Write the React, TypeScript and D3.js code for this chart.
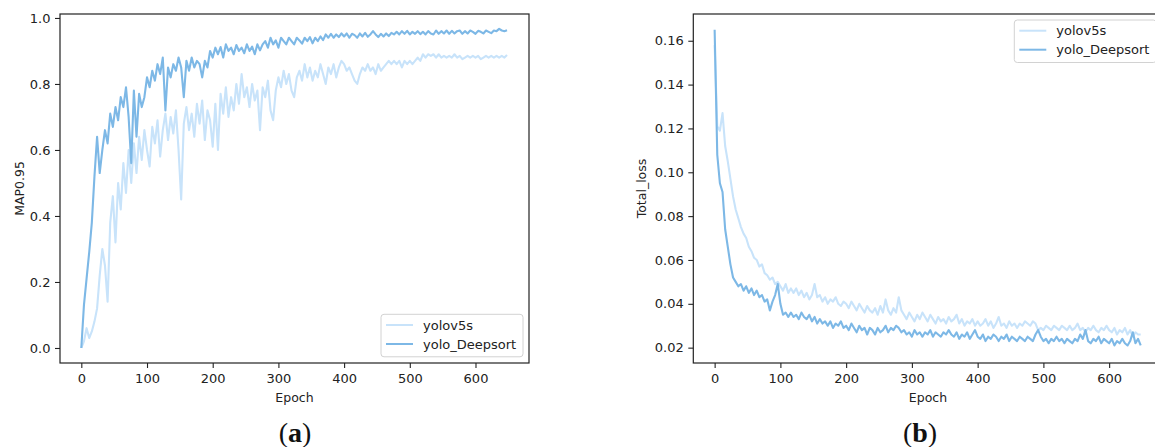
import React, { useRef, useEffect } from 'react';
import * as d3 from 'd3';

// every value below is one reading taken every 4 epochs (0, 4, 8 ... 648)
const EPOCH_STEP = 4;

const seriesNames = ['yolov5s', 'yolo_Deepsort'];
const seriesColors = ['#c8e3fa', '#7db8e6'];

const epochTicks = [0, 100, 200, 300, 400, 500, 600];
const mapTicks = [0, 0.2, 0.4, 0.6, 0.8, 1.0];
const lossTicks = [0.02, 0.04, 0.06, 0.08, 0.1, 0.12, 0.14, 0.16];

// (a) MAP0.95
const mapYolov5s = [
  0.0, 0.02, 0.06, 0.03, 0.05, 0.08, 0.12, 0.22, 0.3, 0.25,
  0.14, 0.38, 0.46, 0.32, 0.5, 0.42, 0.56, 0.47, 0.6, 0.5,
  0.62, 0.53, 0.64, 0.57, 0.66, 0.6, 0.55, 0.67, 0.62, 0.69,
  0.58, 0.66, 0.71, 0.63, 0.7, 0.65, 0.72, 0.6, 0.45, 0.68,
  0.73, 0.66, 0.71, 0.64, 0.74, 0.68, 0.75, 0.63, 0.72, 0.69,
  0.61, 0.74, 0.6, 0.77, 0.71, 0.79, 0.7, 0.76, 0.72, 0.8,
  0.74, 0.83, 0.76, 0.79, 0.73, 0.8, 0.75, 0.78, 0.66, 0.79,
  0.76, 0.81, 0.72, 0.69, 0.78, 0.82, 0.79, 0.84, 0.8, 0.83,
  0.78, 0.76, 0.82, 0.84, 0.81, 0.86, 0.82, 0.85, 0.81, 0.84,
  0.82, 0.86, 0.83, 0.8, 0.85, 0.83, 0.86, 0.82, 0.85, 0.87,
  0.86, 0.84, 0.85, 0.83, 0.81, 0.8, 0.83, 0.85, 0.84, 0.86,
  0.84, 0.85, 0.83, 0.86, 0.84, 0.85, 0.86, 0.87, 0.86, 0.87,
  0.86, 0.87, 0.85, 0.87, 0.86, 0.87, 0.86, 0.87, 0.88, 0.87,
  0.89, 0.88, 0.89, 0.885, 0.89, 0.88, 0.89, 0.88, 0.885, 0.88,
  0.885, 0.88, 0.89, 0.88, 0.885, 0.875, 0.88, 0.885, 0.88, 0.885,
  0.88, 0.885, 0.875, 0.88, 0.885, 0.88, 0.885, 0.88, 0.885, 0.88,
  0.885, 0.88, 0.888,
];

const mapDeepsort = [
  0.0, 0.13, 0.21, 0.29, 0.38, 0.52, 0.64, 0.53, 0.6, 0.66,
  0.62, 0.71, 0.67, 0.73, 0.69, 0.76, 0.73, 0.79, 0.7, 0.56,
  0.78, 0.64, 0.77, 0.73, 0.76, 0.82, 0.79, 0.84, 0.81, 0.86,
  0.83, 0.88, 0.72, 0.85, 0.82, 0.86, 0.84, 0.88, 0.85, 0.76,
  0.87, 0.84, 0.88, 0.85, 0.87, 0.86, 0.82, 0.87, 0.85, 0.9,
  0.88, 0.91, 0.89, 0.912, 0.88, 0.92, 0.9, 0.91, 0.89, 0.918,
  0.9, 0.91, 0.893, 0.92, 0.9, 0.913, 0.89, 0.92, 0.902, 0.92,
  0.93, 0.91, 0.94, 0.92, 0.932, 0.91, 0.94, 0.93, 0.92, 0.94,
  0.93, 0.92, 0.94, 0.932, 0.922, 0.94, 0.93, 0.942, 0.923, 0.94,
  0.93, 0.944, 0.933, 0.95, 0.94, 0.952, 0.94, 0.95, 0.942, 0.953,
  0.944, 0.953, 0.94, 0.952, 0.948, 0.94, 0.953, 0.944, 0.955, 0.943,
  0.95, 0.96, 0.95, 0.942, 0.952, 0.944, 0.953, 0.945, 0.955, 0.95,
  0.958, 0.95, 0.96, 0.952, 0.961, 0.95, 0.958, 0.952, 0.96, 0.951,
  0.958, 0.95, 0.96, 0.953, 0.95, 0.962, 0.952, 0.96, 0.953, 0.962,
  0.952, 0.961, 0.953, 0.96, 0.962, 0.952, 0.96, 0.953, 0.962, 0.958,
  0.952, 0.961, 0.958, 0.953, 0.962, 0.958, 0.954, 0.962, 0.96, 0.967,
  0.962, 0.96, 0.963,
];

// (b) Total_loss
const lossYolov5s = [
  0.158, 0.121, 0.119, 0.127, 0.112, 0.105, 0.097, 0.089, 0.083, 0.079,
  0.075, 0.072, 0.07, 0.066, 0.064, 0.061, 0.06, 0.057, 0.058, 0.054,
  0.053, 0.051, 0.052, 0.049, 0.05, 0.048, 0.046, 0.049, 0.045, 0.047,
  0.045, 0.047, 0.044, 0.046, 0.043, 0.045, 0.042, 0.044, 0.049, 0.043,
  0.044, 0.041, 0.043, 0.04, 0.042, 0.041, 0.043, 0.04, 0.039, 0.041,
  0.04, 0.038, 0.041, 0.039, 0.037, 0.04, 0.038, 0.036, 0.039, 0.037,
  0.036, 0.038, 0.035, 0.039, 0.036, 0.042, 0.037, 0.035, 0.038, 0.036,
  0.043, 0.037, 0.035, 0.033, 0.036, 0.034, 0.032, 0.035, 0.033, 0.036,
  0.034, 0.032, 0.035, 0.033, 0.031, 0.034, 0.032, 0.033, 0.031, 0.034,
  0.032, 0.033, 0.035, 0.031, 0.033, 0.03, 0.032, 0.031, 0.033, 0.03,
  0.032, 0.03, 0.031, 0.033, 0.03, 0.032, 0.029, 0.031, 0.034, 0.03,
  0.031, 0.029, 0.032, 0.03, 0.031, 0.029, 0.031, 0.03, 0.032, 0.031,
  0.03, 0.032, 0.031, 0.028, 0.029, 0.028, 0.03, 0.029, 0.028, 0.03,
  0.029, 0.028, 0.03, 0.029, 0.028, 0.03, 0.028, 0.029, 0.031, 0.028,
  0.029, 0.027, 0.029, 0.028, 0.03, 0.028, 0.027, 0.029, 0.028, 0.03,
  0.028, 0.027, 0.029, 0.026, 0.028, 0.027, 0.029, 0.026, 0.028, 0.025,
  0.027, 0.026, 0.026,
];

const lossDeepsort = [
  0.165, 0.108, 0.095, 0.091, 0.074, 0.066, 0.058, 0.052, 0.05, 0.048,
  0.049, 0.046, 0.048, 0.045, 0.047, 0.044, 0.046, 0.043, 0.044, 0.041,
  0.042, 0.037, 0.041, 0.044, 0.049, 0.04, 0.035, 0.036, 0.034, 0.036,
  0.034, 0.035, 0.033, 0.036, 0.034, 0.033, 0.035, 0.032, 0.034, 0.031,
  0.033, 0.031, 0.032, 0.03, 0.032, 0.029, 0.031, 0.03, 0.032, 0.029,
  0.03, 0.028, 0.031, 0.029, 0.027, 0.03, 0.028, 0.029, 0.026, 0.029,
  0.028, 0.026, 0.029, 0.027, 0.028, 0.03, 0.027, 0.029, 0.028, 0.03,
  0.029, 0.027, 0.028, 0.026, 0.027, 0.025, 0.028, 0.026, 0.027, 0.025,
  0.027, 0.026, 0.028, 0.025, 0.027, 0.026, 0.025, 0.027, 0.026, 0.028,
  0.026, 0.025, 0.027, 0.024, 0.026, 0.025, 0.027, 0.024, 0.026, 0.028,
  0.025, 0.024, 0.026, 0.023, 0.025, 0.024, 0.026, 0.025, 0.023, 0.025,
  0.024, 0.026, 0.023, 0.025, 0.024, 0.023, 0.025, 0.024, 0.023, 0.025,
  0.024, 0.023, 0.026, 0.028, 0.025, 0.023, 0.024, 0.022, 0.024, 0.023,
  0.025, 0.023, 0.024, 0.022, 0.024, 0.023, 0.022, 0.024, 0.023, 0.026,
  0.024, 0.028, 0.023, 0.022, 0.024, 0.023, 0.025, 0.022, 0.024, 0.023,
  0.022, 0.024, 0.021, 0.023, 0.022, 0.024, 0.022, 0.021, 0.023, 0.027,
  0.022, 0.024, 0.021,
];

const FONT = "'DejaVu Sans', sans-serif";
const TEXT_COLOR = '#222';

function drawPanel(svg, opts) {
  const { left, right, top, bottom, yDomain, yTicks, yFormat, yLabel, yLabelX, series, legend, caption, captionX } = opts;

  const x = d3.scaleLinear().domain([-32.45, 681.45]).range([left, right]);
  const y = d3.scaleLinear().domain(yDomain).range([bottom, top]);

  const g = svg.append('g');

  // Lines (yolov5s first, Deepsort drawn on top)
  const line = d3
    .line()
    .x((_, i) => x(i * EPOCH_STEP))
    .y((d) => y(d));

  series.forEach((vals, k) => {
    g.append('path')
      .attr('d', line(vals))
      .attr('fill', 'none')
      .attr('stroke', seriesColors[k])
      .attr('stroke-width', 2.1)
      .attr('stroke-linejoin', 'round');
  });

  // Axes
  const xAxis = g
    .append('g')
    .attr('transform', `translate(0, ${bottom})`)
    .call(d3.axisBottom(x).tickValues(epochTicks).tickSize(5).tickPadding(6));

  const yAxis = g
    .append('g')
    .attr('transform', `translate(${left}, 0)`)
    .call(d3.axisLeft(y).tickValues(yTicks).tickFormat(d3.format(yFormat)).tickSize(5).tickPadding(4.5));

  [xAxis, yAxis].forEach((ax) => {
    ax.select('.domain').remove();
    ax.selectAll('line').attr('stroke', TEXT_COLOR).attr('stroke-width', 1.1);
    ax.selectAll('text')
      .attr('fill', TEXT_COLOR)
      .style('font-family', FONT)
      .style('font-size', '13px');
  });

  // Frame
  g.append('rect')
    .attr('x', left)
    .attr('y', top)
    .attr('width', right - left)
    .attr('height', bottom - top)
    .attr('fill', 'none')
    .attr('stroke', TEXT_COLOR)
    .attr('stroke-width', 1.2);

  // Axis titles
  g.append('text')
    .attr('x', (left + right) / 2)
    .attr('y', 402)
    .attr('text-anchor', 'middle')
    .attr('fill', TEXT_COLOR)
    .style('font-family', FONT)
    .style('font-size', '12.5px')
    .text('Epoch');

  g.append('text')
    .attr('transform', `translate(${yLabelX}, ${(top + bottom) / 2}) rotate(-90)`)
    .attr('text-anchor', 'middle')
    .attr('fill', TEXT_COLOR)
    .style('font-family', FONT)
    .style('font-size', '12.5px')
    .text(yLabel);

  // Legend
  const lg = g.append('g').attr('transform', `translate(${legend.x}, ${legend.y})`);
  lg.append('rect')
    .attr('width', 142)
    .attr('height', 42.5)
    .attr('rx', 3)
    .attr('fill', 'white')
    .attr('fill-opacity', 0.8)
    .attr('stroke', '#d2d2d2');

  seriesNames.forEach((name, k) => {
    const ly = 10.7 + k * 19;
    lg.append('line')
      .attr('x1', 5)
      .attr('x2', 32)
      .attr('y1', ly)
      .attr('y2', ly)
      .attr('stroke', seriesColors[k])
      .attr('stroke-width', 2);
    lg.append('text')
      .attr('x', 42)
      .attr('y', ly)
      .attr('dy', '0.35em')
      .attr('fill', TEXT_COLOR)
      .style('font-family', FONT)
      .style('font-size', '13px')
      .text(name);
  });

  // Sub-figure caption
  const cap = g
    .append('text')
    .attr('x', captionX)
    .attr('y', 442)
    .attr('text-anchor', 'middle')
    .attr('fill', '#111')
    .style('font-family', "'Liberation Serif', serif")
    .style('font-size', '28px');
  cap.append('tspan').text('(');
  cap.append('tspan').attr('font-weight', 'bold').text(caption);
  cap.append('tspan').text(')');
}

const App = () => {
  const svgRef = useRef(null);

  useEffect(() => {
    const svg = d3.select(svgRef.current);
    svg.selectAll('*').remove();

    svg.append('rect').attr('width', 1155).attr('height', 447).attr('fill', 'white');

    drawPanel(svg, {
      left: 60,
      right: 529,
      top: 14,
      bottom: 363,
      yDomain: [-0.0455, 1.012],
      yTicks: mapTicks,
      yFormat: '.1f',
      yLabel: 'MAP0.95',
      yLabelX: 23.8,
      series: [mapYolov5s, mapDeepsort],
      legend: { x: 381, y: 314.3 },
      caption: 'a',
      captionX: 295,
    });

    drawPanel(svg, {
      left: 693.3,
      right: 1162.7,
      top: 14,
      bottom: 363,
      yDomain: [0.013, 0.1722],
      yTicks: lossTicks,
      yFormat: '.2f',
      yLabel: 'Total_loss',
      yLabelX: 646,
      series: [lossYolov5s, lossDeepsort],
      legend: { x: 1014.3, y: 20 },
      caption: 'b',
      captionX: 920,
    });
  }, []);

  return (
    <svg
      ref={svgRef}
      width={1155}
      height={447}
      style={{ position: 'absolute', left: 0, top: 0, display: 'block' }}
    />
  );
};

export default App;
